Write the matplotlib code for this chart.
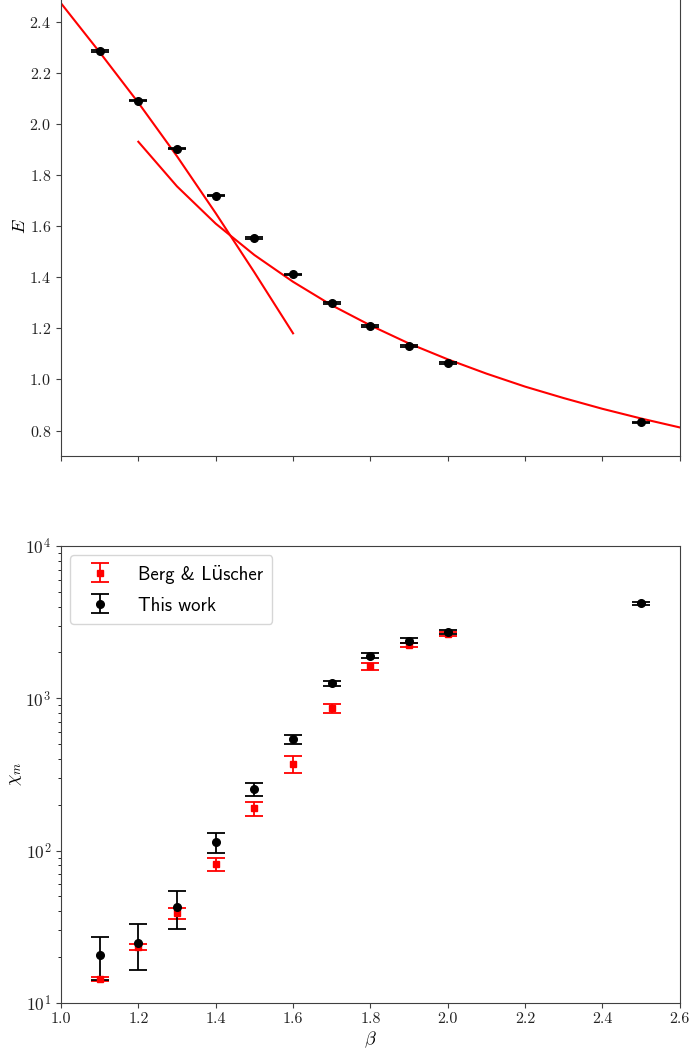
import matplotlib
matplotlib.use("Agg")
import matplotlib.pyplot as plt
import numpy as np

plt.rcParams["font.family"] = ["cmr10", "DejaVu Serif"]
plt.rcParams["mathtext.fontset"] = "cm"
plt.rcParams["axes.formatter.use_mathtext"] = True
plt.rcParams["axes.unicode_minus"] = False

# Internal energy from the simulations
beta = [1.1, 1.2, 1.3, 1.4, 1.5, 1.6, 1.7, 1.8, 1.9, 2.0, 2.5]
energy = [2.287, 2.093, 1.905, 1.721, 1.554, 1.412, 1.300, 1.209, 1.131, 1.064, 0.832]
energy_err = [0.003] * len(beta)

# Strong-coupling expansion
beta_strong = [1.0, 1.1, 1.2, 1.3, 1.4, 1.5, 1.6]
energy_strong = [2.475, 2.283, 2.085, 1.875, 1.652, 1.420, 1.181]

# Weak-coupling expansion
beta_weak = [1.2, 1.3, 1.4, 1.5, 1.6, 1.7, 1.8, 1.9, 2.0, 2.1, 2.2, 2.3, 2.4, 2.5, 2.6]
energy_weak = [1.932, 1.757, 1.611, 1.488, 1.383, 1.291, 1.212, 1.141, 1.079,
               1.023, 0.972, 0.927, 0.885, 0.847, 0.812]

# Magnetic susceptibility
beta_bl = [1.1, 1.2, 1.3, 1.4, 1.5, 1.6, 1.7, 1.8, 1.9, 2.0]
chi_bl = [14.3, 23.4, 38.8, 81.5, 190, 369, 861, 1624, 2244, 2650]
chi_bl_err = [0.4, 1.0, 3.0, 7.5, 20, 47, 60, 80, 80, 70]

beta_tw = [1.1, 1.2, 1.3, 1.4, 1.5, 1.6, 1.7, 1.8, 1.9, 2.0, 2.5]
chi_tw = [20.6, 24.8, 42.7, 113.5, 254, 538, 1256, 1898, 2382, 2716, 4207]
chi_tw_err = [6.5, 8.4, 12.0, 16.8, 26, 40, 50, 72, 90, 80, 100]

xticks = [1.0, 1.2, 1.4, 1.6, 1.8, 2.0, 2.2, 2.4, 2.6]

fig = plt.figure(figsize=(6.93, 10.5), dpi=100)
ax1 = fig.add_axes([0.088, 0.5657, 0.893, 0.4373])
ax2 = fig.add_axes([0.088, 0.0448, 0.893, 0.4352], sharex=ax1)

spine_col = "#404040"
for ax in (ax1, ax2):
    for s in ax.spines.values():
        s.set_color(spine_col)
    ax.tick_params(labelsize=11.5, color=spine_col, labelcolor="#222222")

# Top panel: energy
ax1.plot(beta_strong, energy_strong, color="red", lw=1.5)
ax1.plot(beta_weak, energy_weak, color="red", lw=1.5)
ax1.errorbar(beta, energy, yerr=energy_err, fmt="o", color="black",
             ms=5.5, capsize=6.5, elinewidth=1.3, capthick=1.3)
ax1.set_ylim(0.7, 2.5)
ax1.set_yticks([0.8, 1.0, 1.2, 1.4, 1.6, 1.8, 2.0, 2.2, 2.4])
ax1.set_ylabel(r"$E$", fontsize=13, labelpad=1)
ax1.tick_params(axis="x", labelbottom=False)

# Bottom panel: susceptibility
ax2.errorbar(beta_bl, chi_bl, yerr=chi_bl_err, fmt="s", color="red",
             ms=5, capsize=6.5, elinewidth=1.3, capthick=1.3,
             label="Berg & Lüscher")
ax2.errorbar(beta_tw, chi_tw, yerr=chi_tw_err, fmt="o", color="black",
             ms=5.5, capsize=6.5, elinewidth=1.3, capthick=1.3,
             label="This work")
ax2.set_yscale("log")
ax2.set_ylim(10, 1e4)
ax2.set_xlim(1.0, 2.6)
ax2.set_xticks(xticks)
ax2.set_xticklabels([f"{v:.1f}" for v in xticks])
ax2.tick_params(axis="y", labelsize=12.5)
ax2.set_ylabel(r"$\chi_m$", fontsize=13, labelpad=1)
ax2.set_xlabel(r"$\beta$", fontsize=13, labelpad=2)
ax2.legend(loc="upper left", prop={"family": ["cmss10", "DejaVu Sans"], "size": 13.5},
           handlelength=2.2, handleheight=0.9, borderpad=0.5, labelspacing=0.68,
           handletextpad=0.9)

fig.savefig("out.png", dpi=100)
